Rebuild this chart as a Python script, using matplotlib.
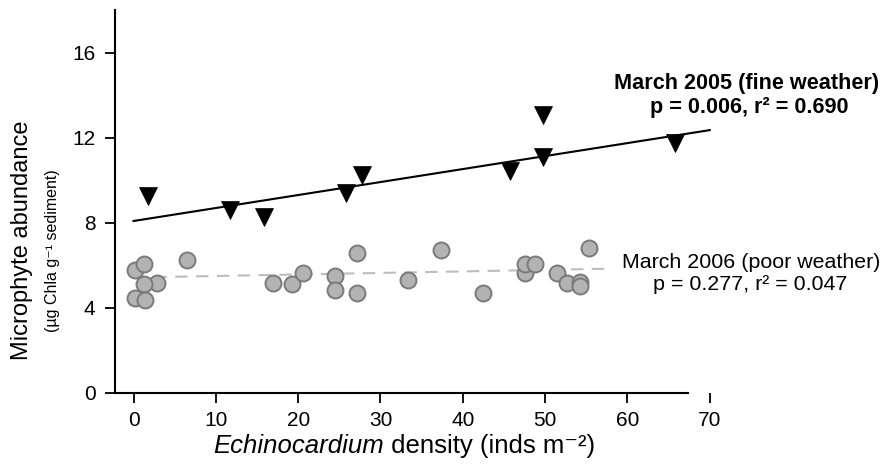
import matplotlib
matplotlib.use('Agg')
import matplotlib.pyplot as plt
import numpy as np

plt.rcParams['font.family'] = ['Liberation Sans', 'DejaVu Sans']

# March 2005 (fine weather)
x2005 = [1.7, 11.7, 15.8, 25.8, 27.7, 45.7, 49.8, 49.8, 65.8]
y2005 = [9.26, 8.58, 8.27, 9.41, 10.24, 10.43, 13.07, 11.09, 11.76]
# March 2006 (poor weather)
x2006 = [0.2, 1.3, 2.8, 1.3, 0.2, 1.4, 6.5, 16.9, 19.3, 20.6, 24.5, 24.5,
         27.1, 27.1, 33.4, 37.3, 42.4, 47.5, 47.5, 48.8, 51.4, 52.6, 54.2,
         54.2, 55.3]
y2006 = [5.76, 6.04, 5.18, 5.13, 4.44, 4.35, 6.23, 5.18, 5.10, 5.65, 5.49,
         4.82, 6.59, 4.71, 5.29, 6.70, 4.71, 5.65, 6.04, 6.04, 5.65, 5.18,
         5.21, 5.02, 6.80]

# regression lines: (intercept, slope), x-range
fit2005 = (8.08, 0.0611)
range2005 = (0, 70)
fit2006 = (5.42, 0.0072)
range2006 = (0, 58)

xticks = [0, 10, 20, 30, 40, 50, 60, 70]
yticks = [0, 4, 8, 12, 16]

W, H = 882, 470
fig = plt.figure(figsize=(W / 100, H / 100), dpi=100)
ax = fig.add_axes([115 / W, 1 - 392.7 / H, (718 - 115) / W, (392.7 - 10.2) / H])

xl = np.array(range2005)
ax.plot(xl, fit2005[0] + fit2005[1] * xl, color='black', lw=1.5, zorder=2)
xl6 = np.array(range2006)
ax.plot(xl6, fit2006[0] + fit2006[1] * xl6, color='#bdbdbd', lw=1.5,
        ls=(0, (6, 4)), zorder=2)

ax.plot(x2006, y2006, 'o', ms=11.5, mfc='#b3b3b3', mec='#7a7a7a', mew=1.4,
        ls='none', zorder=3)
ax.plot(x2005, y2005, 'v', ms=13, mfc='black', mec='black', mew=0.5,
        ls='none', zorder=4)

ax.set_xlim(-2.25, 71)
ax.set_ylim(0, 18)
for s in ['top', 'right']:
    ax.spines[s].set_visible(False)
ax.spines['bottom'].set_bounds(-2.25, 67.4)
ax.spines['left'].set_linewidth(1.5)
ax.spines['bottom'].set_linewidth(1.5)
ax.set_xticks(xticks)
ax.set_yticks(yticks)
ax.tick_params(axis='both', direction='out', length=7, width=1.3,
               labelsize=15)
ax.tick_params(axis='y', pad=7)
ax.tick_params(axis='x', pad=6)

def fx(px):
    return px / W

def fy(py):
    return 1 - py / H

fig.text(fx(22), fy(240), 'Microphyte abundance', rotation=90,
         ha='center', va='center', fontsize=17)
fig.text(fx(53), fy(251), '(µg Chla g⁻¹ sediment)', rotation=90,
         ha='center', va='center', fontsize=11.5)

# x label: italic genus name + regular rest, centred together
t1 = fig.text(0, fy(453), 'Echinocardium', ha='left', va='baseline',
              fontsize=18.5, fontstyle='italic')
t2 = fig.text(0, fy(453), ' density (inds m⁻²)', ha='left', va='baseline',
              fontsize=18.5)
r = fig.canvas.get_renderer()
w1 = t1.get_window_extent(r).width
w2 = t2.get_window_extent(r).width
x0 = 404 - (w1 + w2) / 2
t1.set_x(fx(x0))
t2.set_x(fx(x0 + w1))

fig.text(fx(747), fy(84), 'March 2005 (fine weather)', ha='center',
         va='center', fontsize=15.6, fontweight='bold')
fig.text(fx(749), fy(107), 'p = 0.006, r² = 0.690', ha='center',
         va='center', fontsize=15.6, fontweight='bold')
fig.text(fx(751), fy(262), 'March 2006 (poor weather)', ha='center',
         va='center', fontsize=15.4)
fig.text(fx(750), fy(284), 'p = 0.277, r² = 0.047', ha='center',
         va='center', fontsize=15.4)

fig.savefig('out.png', dpi=100)
